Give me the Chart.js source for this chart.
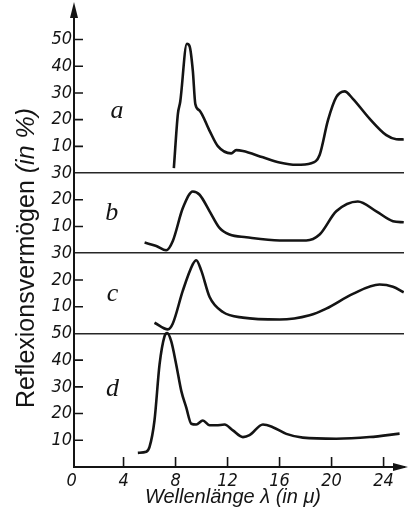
<!DOCTYPE html>
<html>
<head>
<meta charset="utf-8">
<script src="https://cdn.jsdelivr.net/npm/chart.js@4.4.1/dist/chart.umd.min.js"></script>
<style>
  html, body { margin: 0; padding: 0; background: #fff; }
</style>
</head>
<body>
<canvas id="grafico" width="408" height="512"></canvas>
<script>
// Kurve a
const aX = [7.87, 8.18, 8.36, 8.87, 9.08, 9.33, 9.52, 9.85, 10.6, 11.25, 12.28, 12.67, 13.18, 14.72, 16.0, 17.28, 18.44, 19.08, 19.72, 20.36, 21.0, 21.64, 22.92, 24.21, 24.98, 25.55];
const aY = [1.9, 22.2, 26.7, 48.4, 47.5, 38.3, 25.9, 23.4, 16.0, 10.1, 7.4, 8.6, 8.3, 5.9, 4.0, 3.1, 3.7, 6.8, 19.7, 28.4, 30.6, 27.8, 20.4, 14.2, 12.7, 12.6];
// Kurve b
const bX = [5.62, 6.52, 7.28, 7.79, 8.56, 9.33, 9.85, 10.62, 11.38, 12.15, 13.44, 16.0, 18.05, 19.08, 20.36, 22.02, 23.44, 24.72, 25.55];
const bY = [4.0, 2.7, 1.1, 4.6, 16.9, 23.1, 21.9, 15.7, 9.5, 7.0, 6.0, 4.8, 4.8, 7.0, 15.7, 19.4, 15.7, 12.0, 11.6];
// Kurve c
const cX = [6.38, 7.41, 7.79, 8.56, 9.33, 9.59, 9.98, 10.62, 11.64, 13.18, 16.0, 18.31, 19.59, 21.64, 23.69, 24.72, 25.55];
const cY = [4.0, 1.5, 3.7, 16.0, 25.9, 27.4, 23.5, 13.6, 8.0, 5.9, 5.2, 6.8, 9.3, 14.8, 18.3, 17.5, 15.4];
// Kurve d
const dX = [5.1, 5.75, 6.0, 6.38, 6.77, 7.15, 7.36, 7.67, 8.05, 8.44, 8.82, 9.21, 9.59, 10.1, 10.62, 11.13, 11.77, 12.41, 13.18, 13.69, 14.72, 15.48, 16.52, 17.79, 20.36, 22.92, 25.23];
const dY = [5.3, 5.7, 7.5, 17.4, 38.4, 48.9, 50.1, 47.0, 38.4, 28.5, 22.3, 16.2, 15.9, 17.4, 15.6, 15.6, 15.9, 13.7, 11.2, 11.9, 15.9, 14.9, 12.4, 11.0, 10.6, 11.2, 12.5];

const panelLetters = ['a', 'b', 'c', 'd'];
const panelOffsets = [110, 80, 50, 0];
const letterX = [3.5, 3.1, 3.15, 3.15];
const letterY = [23, 15, 14.5, 29.3];

const yTickValues = [10, 20, 30, 40, 50, 60, 70, 80, 90, 100, 110, 120, 130, 140, 150, 160];
const yTickLabels = ['10', '20', '30', '40', '50', '10', '20', '30', '10', '20', '30', '10', '20', '30', '40', '50'];
const separators = [50, 80, 110];
const xTickValues = [0, 4, 8, 12, 16, 20, 24];
const xTickLabels = ['0', '4', '8', '12', '16', '20', '24'];

const yTitle = 'Reflexionsvermögen';
const yTitleUnit = '(in %)';
const xTitle = 'Wellenlänge λ (in μ)';

const ink = '#141414';
const tickFont = { family: "'Liberation Sans Narrow', 'DejaVu Sans Condensed', 'Liberation Sans', sans-serif", size: 18, style: 'italic' };

function serie(xs, ys, offset) {
    return xs.map((x, i) => ({ x: x, y: ys[i] + offset }));
}

const kurven = [[aX, aY], [bX, bY], [cX, cY], [dX, dY]];

const datasets = kurven.map((k, i) => ({
    label: panelLetters[i],
    data: serie(k[0], k[1], panelOffsets[i]),
    borderColor: ink,
    borderWidth: 2.6,
    pointRadius: 0,
    fill: false,
    cubicInterpolationMode: 'monotone'
}));

// Striche nach innen, Pfeile, Buchstaben, Achsentitel
const dekor = {
    id: 'dekor',
    afterDraw(chart) {
        const { ctx, chartArea: area, scales: { x, y } } = chart;
        ctx.save();
        ctx.strokeStyle = ink;
        ctx.fillStyle = ink;
        ctx.lineWidth = 1.6;

        ctx.beginPath();
        yTickValues.forEach(v => {
            if (separators.includes(v)) return;
            const py = y.getPixelForValue(v);
            ctx.moveTo(area.left, py);
            ctx.lineTo(area.left + 9, py);
        });
        xTickValues.forEach(v => {
            if (v === 0) return;
            const px = x.getPixelForValue(v);
            ctx.moveTo(px, area.bottom);
            ctx.lineTo(px, area.bottom - 10);
        });
        ctx.stroke();

        // Achsenverlängerung und Pfeile
        ctx.lineWidth = 2;
        ctx.beginPath();
        ctx.moveTo(area.left, area.top);
        ctx.lineTo(area.left, 10);
        ctx.moveTo(area.right, area.bottom);
        ctx.lineTo(400, area.bottom);
        ctx.stroke();
        ctx.beginPath();
        ctx.moveTo(area.left, 2);
        ctx.lineTo(area.left - 4, 18);
        ctx.lineTo(area.left + 4, 18);
        ctx.closePath();
        ctx.fill();
        ctx.beginPath();
        ctx.moveTo(408, area.bottom);
        ctx.lineTo(393, area.bottom - 4);
        ctx.lineTo(393, area.bottom + 4);
        ctx.closePath();
        ctx.fill();

        ctx.font = "italic 26px 'Liberation Serif', serif";
        ctx.textAlign = 'center';
        ctx.textBaseline = 'middle';
        panelLetters.forEach((l, i) => {
            ctx.fillText(l, x.getPixelForValue(letterX[i]), y.getPixelForValue(letterY[i] + panelOffsets[i]));
        });

        // y-Titel
        ctx.save();
        ctx.translate(27, 258);
        ctx.rotate(-Math.PI / 2);
        ctx.font = "25px 'Liberation Sans', sans-serif";
        const w1 = ctx.measureText(yTitle + ' ').width;
        ctx.font = "italic 25px 'Liberation Sans', sans-serif";
        const w2 = ctx.measureText(yTitleUnit).width;
        const start = -(w1 + w2) / 2;
        ctx.textAlign = 'left';
        ctx.font = "25px 'Liberation Sans', sans-serif";
        ctx.fillText(yTitle, start, 0);
        ctx.font = "italic 25px 'Liberation Sans', sans-serif";
        ctx.fillText(yTitleUnit, start + w1, 0);
        ctx.restore();

        // x-Titel
        ctx.font = "italic 20px 'Liberation Sans', sans-serif";
        ctx.textAlign = 'center';
        ctx.fillText(xTitle, 233, 497);
        ctx.restore();
    }
};

const ctx = document.getElementById('grafico').getContext('2d');
const chart = new Chart(ctx, {
    type: 'line',
    data: { datasets: datasets },
    options: {
        responsive: false,
        animation: false,
        layout: { padding: { top: 8, right: 4, left: 0, bottom: 0 } },
        plugins: { legend: { display: false }, tooltip: { enabled: false } },
        scales: {
            x: {
                type: 'linear',
                min: 0.19,
                max: 25.57,
                afterFit: s => { s.height = 45; },
                afterBuildTicks: s => { s.ticks = xTickValues.map(v => ({ value: v })); },
                grid: { display: false, drawTicks: false },
                border: { display: true, color: ink, width: 2 },
                ticks: {
                    color: ink,
                    font: tickFont,
                    padding: 4,
                    maxRotation: 0,
                    autoSkip: false,
                    callback: (v, i) => xTickLabels[i]
                }
            },
            y: {
                type: 'linear',
                min: 0,
                max: 170,
                afterFit: s => { s.width = 74; },
                afterBuildTicks: s => { s.ticks = yTickValues.map(v => ({ value: v })); },
                grid: {
                    drawTicks: false,
                    lineWidth: 1.6,
                    color: c => separators.includes(c.tick && c.tick.value) ? '#262626' : 'rgba(0,0,0,0)'
                },
                border: { display: true, color: ink, width: 2 },
                ticks: {
                    color: ink,
                    font: tickFont,
                    padding: 2,
                    autoSkip: false,
                    callback: (v, i) => yTickLabels[i]
                }
            }
        }
    },
    plugins: [dekor]
});
</script>
</body>
</html>
